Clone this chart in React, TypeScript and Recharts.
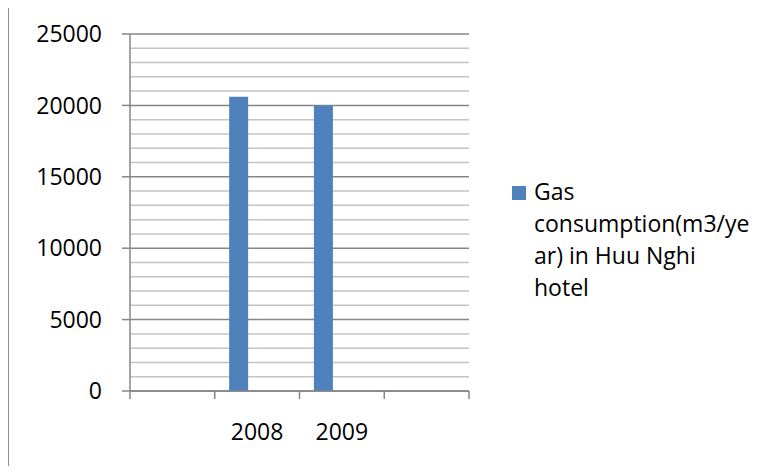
import React from 'react';
import { BarChart, Bar, XAxis, YAxis, CartesianGrid, Legend } from 'recharts';

// categories on the x axis (outer two slots are empty)
const CATEGORIES = ['', '2008', '2009', ''];
// gas use in m3 per year
const GAS_USE = [null, 20600, 20000, null];
// the other two series of the cluster carry no values
const SERIES_2 = [null, null, null, null];
const SERIES_3 = [null, null, null, null];

const Y_TICKS = [0, 5000, 10000, 15000, 20000, 25000];
const MINOR_TICKS = [
    1000, 2000, 3000, 4000, 6000, 7000, 8000, 9000, 11000, 12000,
    13000, 14000, 16000, 17000, 18000, 19000, 21000, 22000, 23000, 24000,
];

const SERIES_NAME = 'Gas consumption(m3/year) in Huu Nghi hotel';
const LEGEND_LINES = ['Gas', 'consumption(m3/ye', 'ar) in Huu Nghi', 'hotel'];

const FONT = '"Open Sans", sans-serif';
const BAR_COLOR = '#4f81bd';
const AXIS_COLOR = '#868686';
const MINOR_COLOR = '#c4c4c4';

const WIDTH = 771;
const HEIGHT = 474;
const MARGIN = { top: 34, right: 302, bottom: 0, left: 0 };
const Y_AXIS_W = 130;
const X_AXIS_H = 83;
const PLOT_W = WIDTH - MARGIN.right - MARGIN.left - Y_AXIS_W;
const BAND = PLOT_W / CATEGORIES.length;

const data = CATEGORIES.map((label, i) => ({
    slot: i,
    label,
    gas: GAS_USE[i],
    s2: SERIES_2[i],
    s3: SERIES_3[i],
}));

// x ticks sit on the band edges, labels in the band centre
function XTick({ x, y, payload }: any) {
    const i = payload.value as number;
    const last = i === CATEGORIES.length - 1;
    return (
        <g>
            <line x1={x - BAND / 2} x2={x - BAND / 2} y1={y} y2={y + 8} stroke={AXIS_COLOR} strokeWidth={1.5} />
            {last && (
                <line x1={x + BAND / 2} x2={x + BAND / 2} y1={y} y2={y + 8} stroke={AXIS_COLOR} strokeWidth={1.5} />
            )}
            <text x={x} y={y + 49} textAnchor="middle" fill="#000" fontSize={23} fontFamily={FONT}>
                {CATEGORIES[i]}
            </text>
        </g>
    );
}

function GasLegend() {
    return (
        <div style={{ position: 'relative', fontFamily: FONT, fontSize: 23, lineHeight: '32px', color: '#000' }}>
            <span
                style={{ position: 'absolute', left: 0, top: 11, width: 14, height: 14, background: BAR_COLOR }}
                title={SERIES_NAME}
            />
            <div style={{ marginLeft: 22, whiteSpace: 'nowrap' }}>
                {LEGEND_LINES.map((line) => (
                    <div key={line}>{line}</div>
                ))}
            </div>
        </div>
    );
}

export default function App() {
    return (
        <div style={{ position: 'relative', width: WIDTH, height: HEIGHT, margin: -8, overflow: 'hidden', background: '#fff' }}>
            <div
                style={{
                    position: 'absolute', left: 7, top: 5, width: WIDTH, height: HEIGHT,
                    borderLeft: '2px solid #8e8e8e', borderTop: '2px solid #8e8e8e',
                }}
            />
            <BarChart
                width={WIDTH}
                height={HEIGHT}
                data={data}
                margin={MARGIN}
                barCategoryGap="17%"
                barGap={0}
                style={{ position: 'absolute', left: 0, top: 0 }}
            >
                <CartesianGrid
                    vertical={false}
                    horizontalValues={MINOR_TICKS}
                    stroke={MINOR_COLOR}
                    strokeWidth={1.5}
                />
                <CartesianGrid vertical={false} stroke={AXIS_COLOR} strokeWidth={1.5} />
                <XAxis
                    dataKey="slot"
                    type="category"
                    height={X_AXIS_H}
                    interval={0}
                    tickSize={0}
                    tickMargin={0}
                    tickLine={false}
                    axisLine={{ stroke: AXIS_COLOR, strokeWidth: 1.5 }}
                    tick={<XTick />}
                />
                <YAxis
                    width={Y_AXIS_W}
                    domain={[0, 25000]}
                    ticks={Y_TICKS}
                    interval={0}
                    tickSize={8}
                    tickMargin={20}
                    axisLine={{ stroke: AXIS_COLOR, strokeWidth: 1.5 }}
                    tickLine={{ stroke: AXIS_COLOR, strokeWidth: 1.5 }}
                    tick={{ fill: '#000', fontSize: 23, fontFamily: FONT }}
                />
                <Legend
                    layout="horizontal"
                    verticalAlign="middle"
                    align="center"
                    content={<GasLegend />}
                    wrapperStyle={{ left: 512, top: 175, width: 250, height: 140 }}
                />
                <Bar dataKey="gas" name={SERIES_NAME} fill={BAR_COLOR} isAnimationActive={false} />
                <Bar dataKey="s2" name="Series 2" legendType="none" fill={BAR_COLOR} isAnimationActive={false} />
                <Bar dataKey="s3" name="Series 3" legendType="none" fill={BAR_COLOR} isAnimationActive={false} />
            </BarChart>
        </div>
    );
}
